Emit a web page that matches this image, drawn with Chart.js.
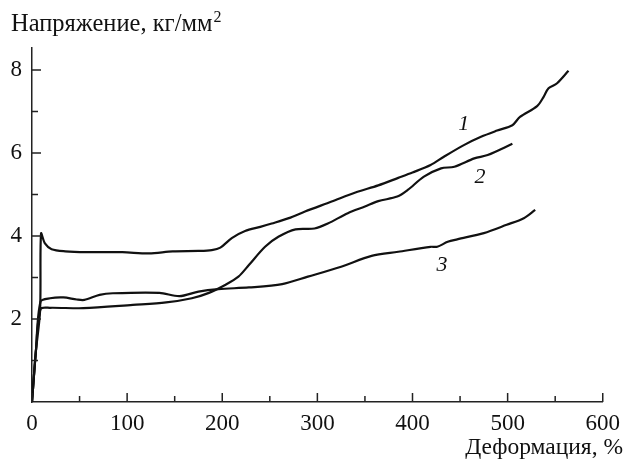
<!DOCTYPE html>
<html>
<head>
<meta charset="utf-8">
<script src="https://cdn.jsdelivr.net/npm/chart.js@4.4.1/dist/chart.umd.min.js"></script>
<style>
  body { margin: 0; background: #fff; }
</style>
</head>
<body>
<canvas id="chart" width="628" height="462"></canvas>
<script>
// curve 1
const x1 = [0, 4, 8.5, 9.5, 13.6, 20.6, 35, 57, 95, 123, 148, 175, 189, 198, 210, 224, 240, 252, 270, 287, 315, 340, 364, 385, 400, 419, 433, 454, 472, 489, 505, 513, 531, 538, 543, 552, 564];
const y1 = [0, 1.2, 2.2, 4.06, 3.82, 3.68, 3.63, 3.61, 3.61, 3.58, 3.63, 3.64, 3.66, 3.72, 3.95, 4.12, 4.22, 4.30, 4.43, 4.59, 4.83, 5.05, 5.22, 5.40, 5.53, 5.71, 5.91, 6.19, 6.39, 6.54, 6.67, 6.87, 7.13, 7.36, 7.56, 7.68, 7.98];
// curve 2
const x2 = [0, 4, 9, 19, 54, 106, 141, 168, 186, 203, 217, 228, 245, 259, 277, 297, 311, 332, 350, 364, 384, 395, 412, 430, 444, 465, 479, 505];
const y2 = [0, 1.2, 2.24, 2.27, 2.26, 2.34, 2.40, 2.50, 2.63, 2.82, 3.02, 3.30, 3.74, 3.98, 4.16, 4.18, 4.30, 4.55, 4.71, 4.84, 4.95, 5.11, 5.43, 5.63, 5.67, 5.87, 5.95, 6.22];
// curve 3
const x3 = [0, 4, 9, 19, 33, 47, 55, 71, 85, 134, 155, 175, 196, 228, 263, 290, 325, 357, 385, 419, 426, 437, 447, 475, 499, 517, 529];
const y3 = [0, 1.2, 2.42, 2.50, 2.52, 2.47, 2.46, 2.58, 2.62, 2.63, 2.55, 2.66, 2.72, 2.76, 2.84, 3.02, 3.26, 3.52, 3.62, 3.74, 3.74, 3.86, 3.92, 4.07, 4.27, 4.43, 4.63];

const xTicks = [0, 100, 200, 300, 400, 500, 600];
const xMinor = [50, 150, 250, 350, 450, 550];
const yTicks = [2, 4, 6, 8];
const yMinor = [1, 3, 5, 7];

const curveNames = ['1', '2', '3'];
const curveLabelX = [454, 471, 431];
const curveLabelY = [6.7, 5.42, 3.3];

const yTitle = 'Напряжение, кг/мм';
const xTitle = 'Деформация, %';

const pts = (xs, ys) => xs.map((v, i) => ({ x: v, y: ys[i] }));
const font = 'Liberation Serif, Times New Roman, serif';

const line = (d) => ({
  data: d,
  borderColor: '#111',
  borderWidth: 2.2,
  pointRadius: 0,
  showLine: true,
  tension: 0.3,
  fill: false
});

// inner tick marks, axis titles and curve numbers
const decor = {
  id: 'decor',
  afterDraw(chart) {
    const { ctx, scales: { x, y } } = chart;
    ctx.save();
    ctx.strokeStyle = '#222';
    ctx.lineWidth = 1.5;
    ctx.beginPath();
    xTicks.forEach(v => { const p = x.getPixelForValue(v); ctx.moveTo(p, y.bottom); ctx.lineTo(p, y.bottom - 9); });
    xMinor.forEach(v => { const p = x.getPixelForValue(v); ctx.moveTo(p, y.bottom); ctx.lineTo(p, y.bottom - 6); });
    yTicks.forEach(v => { const p = y.getPixelForValue(v); ctx.moveTo(x.left, p); ctx.lineTo(x.left + 9, p); });
    yMinor.forEach(v => { const p = y.getPixelForValue(v); ctx.moveTo(x.left, p); ctx.lineTo(x.left + 6, p); });
    ctx.stroke();

    ctx.fillStyle = '#111';
    ctx.textBaseline = 'alphabetic';
    ctx.font = '24.5px ' + font;
    ctx.textAlign = 'left';
    ctx.fillText(yTitle, 11, 31);
    const w = ctx.measureText(yTitle).width;
    ctx.font = '16px ' + font;
    ctx.fillText('2', 11 + w + 1, 22);
    ctx.font = '23.5px ' + font;
    ctx.textAlign = 'right';
    ctx.fillText(xTitle, 623, 454);

    ctx.font = 'italic 22px ' + font;
    ctx.textAlign = 'center';
    ctx.textBaseline = 'middle';
    curveNames.forEach((t, i) => {
      ctx.fillText(t, x.getPixelForValue(curveLabelX[i]), y.getPixelForValue(curveLabelY[i]));
    });
    ctx.restore();
  }
};

new Chart(document.getElementById('chart'), {
  type: 'scatter',
  data: {
    datasets: [line(pts(x1, y1)), line(pts(x2, y2)), line(pts(x3, y3))]
  },
  options: {
    responsive: false,
    animation: false,
    layout: { padding: { top: 48, right: 21, left: 0, bottom: 0 } },
    plugins: { legend: { display: false }, tooltip: { enabled: false } },
    scales: {
      x: {
        type: 'linear',
        min: 0,
        max: 600,
        afterFit: s => { s.height = 60; },
        grid: { display: false, drawTicks: false },
        border: { display: true, color: '#222', width: 1.5 },
        ticks: {
          stepSize: 100,
          padding: 8,
          color: '#111',
          maxRotation: 0,
          font: { family: font, size: 23 }
        }
      },
      y: {
        min: 0,
        max: 8.53,
        afterFit: s => { s.width = 32; },
        grid: { display: false, drawTicks: false },
        border: { display: true, color: '#222', width: 1.5 },
        ticks: {
          stepSize: 2,
          includeBounds: false,
          padding: 10,
          color: '#111',
          font: { family: font, size: 23 },
          callback: v => (v === 0 ? '' : v)
        }
      }
    }
  },
  plugins: [decor]
});
</script>
</body>
</html>
